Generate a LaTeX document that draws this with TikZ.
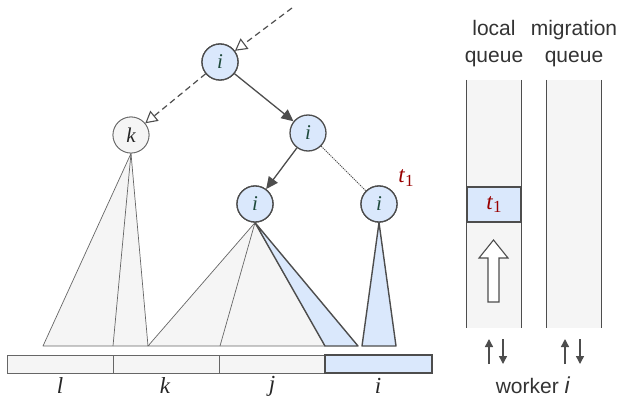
\documentclass[tikz,border=0pt]{standalone}
\usepackage{fontspec}
\setmainfont{Liberation Serif}
\newfontfamily\labsans{Liberation Sans}
\usetikzlibrary{arrows.meta,shapes.geometric}
\definecolor{bfill}{HTML}{DAE8FC}
\definecolor{gfill}{HTML}{F5F5F5}
\definecolor{dstroke}{HTML}{4D4D4D}
\definecolor{gstroke}{HTML}{666666}
\definecolor{lblgreen}{HTML}{1E4A3C}
\definecolor{tred}{HTML}{990000}
\tikzset{
  bnode/.style={circle, draw=dstroke, line width=1.3pt, fill=bfill, minimum size=36pt, inner sep=0pt, font=\fontsize{21}{21}\selectfont\itshape, text=lblgreen},
  gnode/.style={circle, draw=gstroke, line width=0.8pt, fill=gfill, minimum size=36pt, inner sep=0pt, font=\fontsize{21}{21}\selectfont\itshape, text=black!85},
  dashedge/.style={draw=dstroke, line width=1.2pt, dash pattern=on 6pt off 4pt, -{Triangle[open, length=12pt, width=13pt, line width=1.1pt, fill=white]}},
  solidedge/.style={draw=dstroke, line width=1.3pt, -{Triangle[length=12pt, width=11pt]}},
  dotedge/.style={draw=dstroke, line width=1pt, dash pattern=on 1.2pt off 1pt},
  gtri/.style={fill=gfill, draw=gstroke, line width=0.7pt, line join=round},
  btri/.style={fill=bfill, draw=dstroke, line width=1.4pt, line join=round},
  gbar/.style={fill=gfill, draw=gstroke, line width=0.8pt},
  bbar/.style={fill=bfill, draw=dstroke, line width=1.4pt},
  botlab/.style={font=\fontsize{23}{23}\selectfont\itshape, text=black!85},
  sanslab/.style={font=\labsans\fontsize{21}{27}\selectfont, text=black!80, align=center},
  lane/.style={fill=gfill, draw=none},
  laneline/.style={draw=dstroke, line width=1.1pt},
  smallarrow/.style={draw=dstroke, line width=1.4pt, -{Triangle[length=8pt, width=8pt]}},
}
\begin{document}
\begin{tikzpicture}[x=1pt, y=-1pt]
\useasboundingbox (0,0) rectangle (621,398);

\coordinate (b43) at (43,346);
\coordinate (b113) at (113,346);
\coordinate (b148) at (148,346);
\coordinate (b220) at (220,346);
\coordinate (b325) at (325,346);
\coordinate (b358) at (358,346);
\coordinate (b362) at (362,346);
\coordinate (b396) at (396,346);

% tree nodes
\node[bnode] (top) at (220,62) {i};
\node[gnode] (k) at (131,135) {k};
\node[bnode] (mid) at (308,133) {i};
\node[bnode] (ll) at (255,204) {i};
\node[bnode] (rr) at (379,204) {i};

\path[gtri] (k.south) -- (b43) -- (b148) -- cycle;
\draw[draw=gstroke, line width=0.7pt] (k.south) -- (b113);
\path[gtri] (ll.south) -- (b148) -- (b325) -- cycle;
\draw[draw=gstroke, line width=0.7pt] (ll.south) -- (b220);
\path[btri] (ll.south) -- (b325) -- (b358) -- cycle;
\path[btri] (rr.south) -- (b362) -- (b396) -- cycle;

% redraw nodes on top of the triangles
\node[bnode] at (top) {i};
\node[gnode] at (k) {k};
\node[bnode] at (ll) {i};
\node[bnode] at (rr) {i};

% edges
\coordinate (start) at (292,8);
\draw[dashedge] (start) -- (top);
\draw[dashedge] (top) -- (k);
\draw[solidedge] (top) -- (mid);
\draw[solidedge] (mid) -- (ll);
\draw[dotedge] (mid) -- (rr);
\node[text=tred, font=\fontsize{23}{23}\selectfont] (t1lab) at (406,178) {\textit{t}\raisebox{-0.35ex}{\fontsize{17}{17}\selectfont 1}};

% bar
\node[gbar, minimum width=106pt, minimum height=18pt, inner sep=0pt] (sl) at (60,364) {};
\node[gbar, minimum width=106pt, minimum height=18pt, inner sep=0pt] (sk) at (166,364) {};
\node[gbar, minimum width=106pt, minimum height=18pt, inner sep=0pt] (sj) at (272,364) {};
\node[bbar, minimum width=107pt, minimum height=18pt, inner sep=0pt] (si) at (378.5,364) {};
\node[botlab] (ll1) at (60,386) {l};
\node[botlab] (lk) at (165,386) {k};
\node[botlab] (lj) at (272,386) {j};
\node[botlab] (li) at (378,386) {i};

% queues
\node[lane, minimum width=54pt, minimum height=248pt, inner sep=0pt] (lq) at (494,204) {};
\node[lane, minimum width=54pt, minimum height=248pt, inner sep=0pt] (mq) at (574,204) {};
\draw[laneline] (lq.north west) -- (lq.south west);
\draw[laneline] (lq.north east) -- (lq.south east);
\draw[laneline] (mq.north west) -- (mq.south west);
\draw[laneline] (mq.north east) -- (mq.south east);
\node[fill=bfill, draw=dstroke, line width=1.1pt, minimum width=54pt, minimum height=35pt, inner sep=0pt, text=tred, font=\fontsize{23}{23}\selectfont] (t1box) at (494,204.5) {\textit{t}\raisebox{-0.35ex}{\fontsize{17}{17}\selectfont 1}};

% big open arrow
\draw[draw=dstroke, line width=1.1pt, fill=white, line join=miter] (488,302) -- (499,302) -- (499,258) -- (508,258) -- (493.5,240) -- (479,258) -- (488,258) -- cycle;

\node[sanslab] (lqlab) at (494,44) {local\\queue};
\node[sanslab] (mqlab) at (574,44) {migration\\queue};

% small arrows
\coordinate (lu1) at (489,364);
\coordinate (lu2) at (489,339);
\coordinate (ld1) at (503,339);
\coordinate (ld2) at (503,364);
\coordinate (mu1) at (565,364);
\coordinate (mu2) at (565,339);
\coordinate (md1) at (580,339);
\coordinate (md2) at (580,364);
\draw[smallarrow] (lu1) -- (lu2);
\draw[smallarrow] (ld1) -- (ld2);
\draw[smallarrow] (mu1) -- (mu2);
\draw[smallarrow] (md1) -- (md2);
\node[sanslab] (wk) at (533,385) {worker \textit{\fontsize{23}{23}\selectfont i}};
\end{tikzpicture}
\end{document}
